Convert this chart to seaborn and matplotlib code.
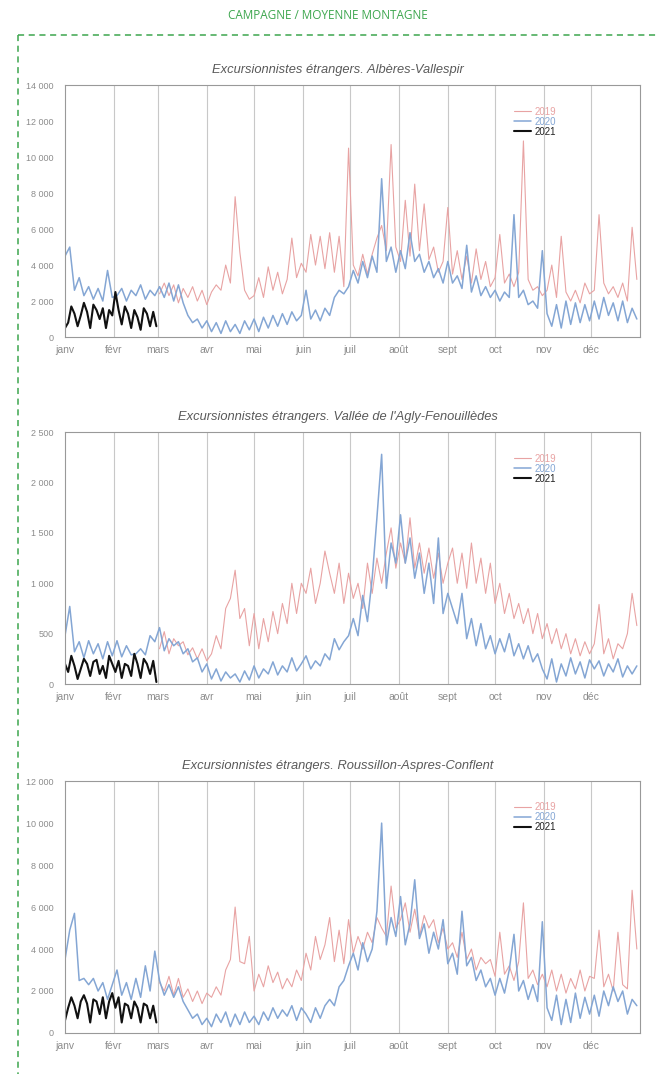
import numpy as np
import pandas as pd
import matplotlib.pyplot as plt
import seaborn as sns
from matplotlib.lines import Line2D
from matplotlib.ticker import FuncFormatter

# mois (début, jour de l'année)
mois = ['janv', 'févr', 'mars', 'avr', 'mai', 'juin', 'juil', 'août', 'sept', 'oct', 'nov', 'déc']
debut_mois = [0, 31, 59, 90, 120, 151, 181, 212, 243, 273, 304, 334]

# jours échantillonnés
jours_2020 = list(range(0, 366, 3))
jours_2019 = list(range(60, 366, 3))
jours_2021 = list(range(0, 60, 2))

# Albères-Vallespir
alb_2020 = [4500, 5000, 2600, 3300, 2300, 2800, 2100, 2700, 2000, 3700, 2200,
            2300, 2700, 2000, 2600, 2300, 2900, 2100, 2600, 2300,
            2800, 2200, 3000, 2000, 2900, 1900, 1200, 800, 1000, 500, 900,
            300, 800, 200, 900, 300, 700, 200, 900, 400,
            1000, 300, 1100, 500, 1200, 600, 1300, 700, 1400, 900, 1200,
            2600, 1000, 1500, 900, 1600, 1200, 2200, 2600, 2400, 2800,
            3700, 3000, 4200, 3300, 4500, 3600, 8800, 4200, 5000, 3600,
            4800, 3800, 5800, 4200, 4600, 3600, 4200, 3300, 3800, 3000, 4200,
            3000, 3400, 2700, 5100, 2500, 3400, 2300, 2800, 2200,
            2600, 2000, 2500, 2200, 6800, 2200, 2600, 1800, 2000, 1600, 4800,
            1300, 600, 1800, 500, 2000, 700, 1900, 800, 1800, 900,
            2000, 1000, 2200, 1200, 1900, 900, 2000, 800, 1600, 1000]
alb_2019 = [2400, 3000, 2300, 2900, 1900, 2700, 2200, 2800, 2000, 2600, 1800,
            2500, 2900, 2600, 4000, 3000, 7800, 4700, 2600, 2100,
            2300, 3300, 2200, 3900, 2600, 3600, 2400, 3200, 5500, 3300, 4100,
            3600, 5700, 4000, 5600, 3800, 5800, 3600, 5600, 2800, 10500,
            4000, 3400, 4600, 3500, 4600, 5500, 6200, 4800, 10700, 5000,
            4200, 7600, 4500, 8500, 4800, 7400, 4300, 5000, 3600, 4200, 7200,
            3500, 4800, 3200, 4500, 3000, 4900, 3200, 4200, 2800,
            3300, 5700, 3000, 3500, 2800, 3600, 10900, 3200, 2600, 2800, 2300,
            2600, 4000, 2200, 5600, 2500, 2000, 2600, 1900, 3000, 2400,
            2600, 6800, 3000, 2400, 2800, 2200, 3000, 2000, 6100, 3200]
alb_2021 = [500, 800, 1700, 1300, 600, 1200, 1900, 1400, 500, 1800, 1500, 1000, 1600, 500, 1500,
            1200, 2500, 1500, 700, 1700, 1300, 500, 1500, 1100, 400, 1600, 1300, 600, 1400, 600]

# Vallée de l'Agly-Fenouillèdes
agly_2020 = [480, 770, 320, 420, 260, 430, 300, 400, 250, 420, 280,
             430, 270, 380, 290, 300, 350, 290, 480, 420,
             560, 330, 450, 380, 420, 300, 350, 220, 260, 120, 200,
             50, 150, 30, 120, 60, 100, 20, 130, 40,
             180, 60, 150, 100, 220, 90, 180, 120, 260, 130, 200,
             280, 150, 230, 180, 300, 240, 450, 340, 420, 480,
             650, 480, 880, 620, 1050, 1650, 2280, 950, 1400, 1200,
             1680, 1200, 1450, 1050, 1300, 900, 1200, 800, 1450, 700, 900,
             750, 600, 900, 450, 650, 380, 600, 350, 480,
             300, 450, 320, 500, 280, 400, 250, 380, 220, 300, 150,
             50, 250, 20, 200, 80, 260, 100, 220, 60, 240,
             150, 230, 80, 200, 120, 250, 70, 180, 100, 180]
agly_2019 = [350, 520, 300, 450, 380, 420, 290, 360, 250, 350, 230,
             300, 480, 350, 750, 850, 1130, 650, 750, 380,
             700, 350, 650, 420, 720, 500, 800, 600, 1000, 700, 1000,
             900, 1150, 800, 1000, 1320, 1100, 900, 1200, 800, 1100,
             850, 1000, 750, 1200, 900, 1250, 1000, 1300, 1550, 1150,
             1400, 1200, 1650, 1150, 1400, 1100, 1350, 1050, 1300, 1000, 1200,
             1350, 1000, 1300, 950, 1400, 1000, 1250, 900, 1200,
             800, 1000, 700, 900, 650, 800, 600, 750, 500, 700, 450,
             600, 400, 550, 350, 500, 300, 450, 280, 420, 300,
             400, 790, 300, 450, 250, 400, 350, 500, 900, 580]
agly_2021 = [200, 120, 280, 180, 50, 150, 250, 200, 80, 220, 240, 100, 180, 60, 280,
             200, 120, 230, 60, 200, 180, 80, 300, 200, 60, 250, 200, 100, 230, 20]

# Roussillon-Aspres-Conflent
rous_2020 = [3500, 4900, 5700, 2500, 2600, 2300, 2600, 2000, 2400, 1600, 2300,
             3000, 1800, 2400, 1600, 2600, 1700, 3200, 2000, 3900,
             2500, 1800, 2300, 1700, 2200, 1500, 1100, 700, 900, 400, 700,
             300, 900, 500, 1000, 300, 900, 400, 1000, 500,
             800, 400, 1000, 600, 1200, 700, 1100, 800, 1300, 600, 1200,
             900, 500, 1200, 700, 1300, 1600, 1300, 2200, 2500, 3200,
             3800, 3000, 4300, 3400, 4000, 5800, 10000, 4200, 5500, 4600,
             6500, 4200, 5200, 7300, 4500, 5200, 3800, 4800, 4000, 5400, 3300,
             3800, 2800, 5800, 3200, 3600, 2500, 3000, 2200, 2600,
             1800, 2600, 1900, 3000, 4700, 2000, 2500, 1600, 2300, 1500, 5300,
             1200, 600, 1800, 400, 1600, 500, 1900, 700, 1700, 900,
             1800, 800, 2000, 1300, 2200, 1500, 2000, 900, 1600, 1300]
rous_2019 = [2400, 2000, 2700, 1800, 2600, 1700, 2100, 1500, 2000, 1400, 1900,
             1700, 2200, 1800, 3000, 3500, 6000, 3400, 3300, 4600,
             2000, 2800, 2200, 3200, 2400, 2900, 2100, 2600, 2200, 3000, 2500,
             3800, 3000, 4600, 3500, 4200, 5500, 3400, 4900, 3300, 5400,
             3800, 4600, 4000, 4800, 4300, 5500, 5000, 4600, 7000, 5000,
             5400, 6200, 4800, 5900, 4600, 5600, 5000, 5400, 4300, 5000, 4000,
             4300, 3600, 4800, 3500, 4000, 3000, 3600, 3300, 3500,
             2700, 4800, 2800, 3200, 2500, 3400, 6200, 2600, 3000, 2300, 2800,
             2200, 3000, 2000, 2800, 1900, 2600, 2100, 3000, 2000, 2700,
             2600, 4900, 2200, 2800, 2000, 4800, 2300, 2100, 6800, 4000]
rous_2021 = [600, 1200, 1700, 1300, 700, 1500, 1800, 1400, 500, 1600, 1500, 900, 1700, 700, 1500,
             1900, 1200, 1700, 500, 1400, 1300, 700, 1500, 1200, 500, 1400, 1300, 700, 1300, 500]

panneaux = [
    ("Excursionnistes étrangers. Albères-Vallespir", alb_2019, alb_2020, alb_2021, 14000, 2000),
    ("Excursionnistes étrangers. Vallée de l'Agly-Fenouillèdes", agly_2019, agly_2020, agly_2021, 2500, 500),
    ("Excursionnistes étrangers. Roussillon-Aspres-Conflent", rous_2019, rous_2020, rous_2021, 12000, 2000),
]

sns.set_style("white")
plt.rcParams['font.family'] = ['Liberation Sans', 'DejaVu Sans']

couleurs = {'2019': '#e8a3a3', '2020': '#84a6d4', '2021': '#111111'}
epaisseurs = {'2019': 0.8, '2020': 1.1, '2021': 1.5}

fig = plt.figure(figsize=(6.56, 10.74), dpi=100)
fig.text(0.5, 0.986, "CAMPAGNE / MOYENNE MONTAGNE", ha='center', va='center',
         color='#3da64e', fontsize=8.5, family=['Open Sans', 'DejaVu Sans'])

vert = '#3da64e'
fig.add_artist(Line2D([18 / 656, 1.0], [1 - 35 / 1074] * 2, color=vert, lw=1.1, ls=(0, (4, 3))))
fig.add_artist(Line2D([18 / 656] * 2, [1 - 35 / 1074, 0.0], color=vert, lw=1.1, ls=(0, (4, 3))))

bas = [0.6862, 0.3631, 0.0382]
for (titre, s19, s20, s21, ymax, pas), b in zip(panneaux, bas):
    ax = fig.add_axes([0.0991, b, 0.8765, 0.2345])
    df = pd.concat([
        pd.DataFrame({'jour': jours_2019, 'valeur': s19, 'annee': '2019'}),
        pd.DataFrame({'jour': jours_2020, 'valeur': s20, 'annee': '2020'}),
        pd.DataFrame({'jour': jours_2021, 'valeur': s21, 'annee': '2021'}),
    ])
    for an in ['2019', '2020', '2021']:
        sns.lineplot(data=df[df['annee'] == an], x='jour', y='valeur', ax=ax,
                     color=couleurs[an], lw=epaisseurs[an], label=an)
    ax.set_xlim(0, 365)
    ax.set_ylim(0, ymax)
    ax.set_yticks(np.arange(0, ymax + 1, pas))
    ax.yaxis.set_major_formatter(FuncFormatter(lambda v, p: f"{int(v):,}".replace(',', ' ')))
    ax.set_xticks(debut_mois)
    ax.set_xticklabels(mois)
    for d in debut_mois[1:]:
        ax.axvline(d, color='#c8c8c8', lw=0.8, zorder=0)
    ax.tick_params(axis='y', labelsize=6.5, colors='#8c8c8c', length=0, pad=8)
    ax.tick_params(axis='x', labelsize=7.5, colors='#8c8c8c', length=0, pad=6)
    ax.set_xlabel('')
    ax.set_ylabel('')
    for sp in ax.spines.values():
        sp.set_color('#999999')
        sp.set_linewidth(0.8)
    ax.set_title(titre, fontsize=9.3, style='italic', color='#5a5a5a', pad=9, x=0.475)
    leg = ax.legend(loc='upper left', bbox_to_anchor=(0.765, 0.95), frameon=False,
                    fontsize=7, handlelength=1.8, labelspacing=0.0, handletextpad=0.4)
    for txt, an in zip(leg.get_texts(), ['2019', '2020', '2021']):
        txt.set_color(couleurs[an] if an != '2021' else '#222222')

fig.savefig('out.png', dpi=100)
